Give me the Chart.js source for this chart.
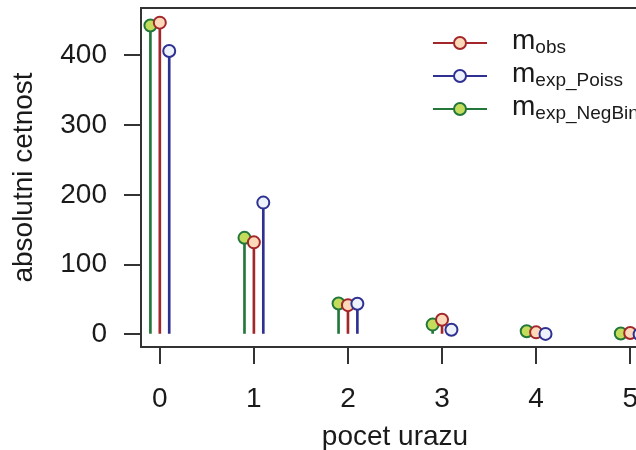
<!DOCTYPE html>
<html>
<head>
<meta charset="utf-8">
<script src="https://cdn.jsdelivr.net/npm/chart.js@4"></script>
<style>
  body { margin: 0; overflow: hidden; background: #fff; }
  #wrap { width: 700px; height: 470px; }
</style>
</head>
<body>
<div id="wrap"><canvas id="myChart" width="700" height="470"></canvas></div>
<script>
// data
const counts = [0, 1, 2, 3, 4, 5]
const observed = [447, 132, 42, 21, 3, 2]
const expPoisson = [406.3, 189.0, 44.0, 6.8, 0.8, 0.1]
const expNegBin = [442.9, 138.5, 44.3, 14.1, 4.5, 1.4]
const yTicks = [0, 100, 200, 300, 400]

const FONT = 'Liberation Sans, Arial, Helvetica, sans-serif'
const TEXT = '#1a1a1a'
const AXIS = '#333'

// series: sub label, values, shift on x, stroke, fill
const series = [
    { sub: 'obs', values: observed, shift: 0, stroke: '#a3262b', fill: '#fcd9b8' },
    { sub: 'exp_Poiss', values: expPoisson, shift: 0.1, stroke: '#2e3192', fill: '#eef2fb' },
    { sub: 'exp_NegBin', values: expNegBin, shift: -0.1, stroke: '#23773a', fill: '#c3dc5c' }
]

const datasets = []
// points on top: blue, red, green
const pointOrder = { obs: 1, exp_Poiss: 0, exp_NegBin: 2 }
series.forEach(s => {
    const pts = counts.map((k, i) => ({ x: k + s.shift, y: s.values[i] }))
    datasets.push({
        type: 'bar',
        data: pts,
        backgroundColor: s.stroke,
        barThickness: 2,
        grouped: false,
        order: 5 + pointOrder[s.sub]
    })
    datasets.push({
        type: 'scatter',
        data: pts,
        showLine: false,
        pointRadius: 6,
        pointBorderWidth: 2,
        borderColor: s.stroke,
        backgroundColor: s.fill,
        pointBackgroundColor: s.fill,
        pointBorderColor: s.stroke,
        order: pointOrder[s.sub]
    })
})

const boxPlugin = {
    id: 'box',
    beforeDatasetsDraw(chart) {
        const a = chart.chartArea
        const ctx = chart.ctx
        ctx.save()
        ctx.strokeStyle = AXIS
        ctx.lineWidth = 2
        ctx.strokeRect(a.left, a.top, a.right - a.left, a.bottom - a.top)
        ctx.restore()
    }
}

const legendPlugin = {
    id: 'mlegend',
    afterDraw(chart) {
        const ctx = chart.ctx
        const rows = [43, 76, 109]
        ctx.save()
        series.forEach((s, i) => {
            const y = rows[i]
            ctx.strokeStyle = s.stroke
            ctx.lineWidth = 2
            ctx.beginPath()
            ctx.moveTo(433, y)
            ctx.lineTo(487, y)
            ctx.stroke()
            ctx.beginPath()
            ctx.arc(460, y, 6, 0, Math.PI * 2)
            ctx.fillStyle = s.fill
            ctx.fill()
            ctx.stroke()
            ctx.fillStyle = TEXT
            ctx.textBaseline = 'alphabetic'
            ctx.textAlign = 'left'
            ctx.font = '28px ' + FONT
            ctx.fillText('m', 512, y + 6)
            const w = ctx.measureText('m').width
            ctx.font = '19px ' + FONT
            ctx.fillText(s.sub, 512 + w, y + 10)
        })
        ctx.restore()
    }
}

function noPad(scale) {
    scale.paddingTop = 0
    scale.paddingBottom = 0
    scale.paddingLeft = 0
    scale.paddingRight = 0
}

const ctx = document.getElementById('myChart').getContext('2d')
const myChart = new Chart(ctx, {
    data: { datasets: datasets },
    options: {
        responsive: false,
        animation: false,
        devicePixelRatio: 1,
        layout: { padding: { top: 7, right: 51, left: 0, bottom: 0 } },
        plugins: { legend: { display: false }, tooltip: { enabled: false } },
        scales: {
            x: {
                type: 'linear',
                min: -0.2,
                max: 5.2,
                offset: false,
                afterFit(scale) { scale.height = 123; noPad(scale) },
                afterBuildTicks(scale) { scale.ticks = counts.map(v => ({ value: v })) },
                ticks: { font: { family: FONT, size: 28 }, color: TEXT, padding: 18 },
                grid: { offset: false, drawOnChartArea: false, tickLength: 17, color: AXIS, lineWidth: 2 },
                border: { display: false },
                title: {
                    display: true,
                    text: 'pocet urazu',
                    font: { family: FONT, size: 28 },
                    color: TEXT,
                    padding: { top: 0, bottom: 16 }
                }
            },
            y: {
                type: 'linear',
                min: -18,
                max: 468,
                afterFit(scale) { scale.width = 141; noPad(scale) },
                afterBuildTicks(scale) { scale.ticks = yTicks.map(v => ({ value: v })) },
                ticks: { font: { family: FONT, size: 28 }, color: TEXT, padding: 17 },
                grid: { drawOnChartArea: false, tickLength: 17, color: AXIS, lineWidth: 2 },
                border: { display: false },
                title: {
                    display: true,
                    text: 'absolutni cetnost',
                    font: { family: FONT, size: 28 },
                    color: TEXT,
                    padding: { top: 7, bottom: 0 }
                }
            }
        }
    },
    plugins: [boxPlugin, legendPlugin]
})
</script>
</body>
</html>
